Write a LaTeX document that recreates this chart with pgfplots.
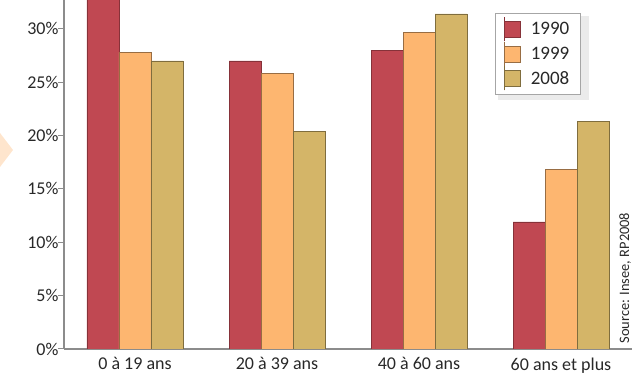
\documentclass[border=0pt]{standalone}
\usepackage{fontspec}
\setmainfont{Carlito}
\usepackage{pgfplots}
\pgfplotsset{compat=1.18}
\definecolor{c90}{RGB}{192,72,82}
\definecolor{c99}{RGB}{253,182,112}
\definecolor{c08}{RGB}{212,181,104}
\definecolor{axgray}{RGB}{140,140,140}
\definecolor{txt}{RGB}{40,40,40}
\begin{document}
\begin{tikzpicture}
\path[use as bounding box] (-64pt,-25pt) rectangle (576pt,349pt);
\fill[c99!70, opacity=0.5] (-64pt,216pt) -- (-51pt,199pt) -- (-64pt,182pt) -- cycle;
\fill[black, opacity=0.08] (434pt,249pt) rectangle (525pt,333pt);
\begin{axis}[
  at={(0pt,0pt)}, anchor=south west,
  scale only axis, width=568pt, height=349pt,
  xmin=-0.5, xmax=3.5, ymin=0, ymax=32.7,
  axis x line*=bottom, axis y line*=left,
  axis line style={axgray, line width=1.3pt, -},
  ybar=0pt, bar width=32pt,
  xtick={0,1,2,3},
  xticklabels={0 à 19 ans,20 à 39 ans,40 à 60 ans,60 ans et plus},
  x tick style={draw=none},
  extra x ticks={0.5,1.5,2.5,3.5},
  extra x tick labels={},
  extra x tick style={tick style={draw=axgray, line width=1pt}, major tick length=6pt, tick align=outside},
  ytick={0,5,10,15,20,25,30},
  yticklabels={0\%,5\%,10\%,15\%,20\%,25\%,30\%},
  y tick style={draw=axgray, line width=1pt},
  major tick length=6pt, tick align=outside,
  ticklabel style={font=\fontsize{18}{22}\selectfont, text=txt},
  xticklabel style={yshift=1pt},
  yticklabel style={xshift=4pt},
  legend cell align=left,
  legend style={at={(rel axis cs:0.759,0.963)}, anchor=north west,
    draw=gray!70, fill=white,
    inner xsep=9pt, inner ysep=4pt,
    nodes={text=txt, font=\fontsize{19}{22}\selectfont},
    /tikz/every odd column/.append style={column sep=8pt}},
  clip=true,
]
\addplot[fill=c90, draw=c90!70!black, line width=0.5pt,
  legend image code/.code={\path (0pt,-12pt) -- (0pt,12pt);\draw[fill=c90, draw=c90!70!black] (0pt,-8pt) rectangle (16pt,8pt);}]
  coordinates {(0,34) (1,27.0) (2,28.0) (3,11.9)};
\addplot[fill=c99, draw=c99!60!black, line width=0.5pt,
  legend image code/.code={\path (0pt,-12pt) -- (0pt,12pt);\draw[fill=c99, draw=c99!60!black] (0pt,-8pt) rectangle (16pt,8pt);}]
  coordinates {(0,27.8) (1,25.8) (2,29.7) (3,16.8)};
\addplot[fill=c08, draw=c08!60!black, line width=0.5pt,
  legend image code/.code={\path (0pt,-12pt) -- (0pt,12pt);\draw[fill=c08, draw=c08!60!black] (0pt,-8pt) rectangle (16pt,8pt);}]
  coordinates {(0,27.0) (1,20.4) (2,31.4) (3,21.3)};
\legend{1990,1999,2008}
\end{axis}
\node[rotate=90, font=\fontsize{14.4}{17}\selectfont, text=txt] at (561pt,71pt) {Source: Insee, RP2008};
\end{tikzpicture}
\end{document}
